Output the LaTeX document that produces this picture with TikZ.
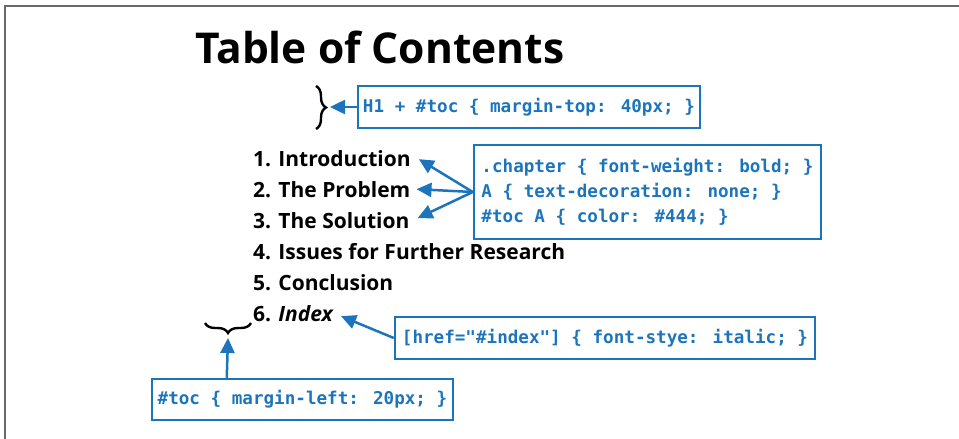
\documentclass[tikz,border=0pt]{standalone}
\usepackage{fontspec}
\setmainfont{Open Sans}
\newfontfamily\codefont{DejaVu Sans Mono}
\usetikzlibrary{arrows.meta,decorations.pathreplacing}
\definecolor{cssblue}{RGB}{28,117,188}
\definecolor{framegray}{RGB}{105,105,105}
\tikzset{
  codebox/.style={draw=cssblue, line width=2.5pt, text=cssblue, inner sep=0pt,
    font=\codefont\bfseries\fontsize{17.6}{25}\selectfont, align=left},
  item/.style={anchor=base west, inner sep=0pt, font=\bfseries\fontsize{21}{26}\selectfont},
  arr/.style={cssblue, line width=2.5pt, -{Triangle[length=15pt,width=14pt]}},
  bracestyle/.style={line width=2.4pt, decorate, decoration={brace, amplitude=10pt}}
}
\begin{document}
\begin{tikzpicture}[x=1pt,y=-1pt]
\useasboundingbox (0,0) rectangle (959,439);
% window frame
\draw[framegray, line width=2pt] (5,439) -- (5,6) -- (959,6);
% title
\node[anchor=base west, inner sep=0pt, font=\bfseries\fontsize{42.5}{50}\selectfont] (title) at (195,63) {Table of Contents};
% box 1 and brace
\node[codebox, minimum width=342pt, minimum height=42pt] (box1) at (529,107) {H1 + \#toc \{ margin-top: 40px; \}};
\draw[bracestyle] (316,86) -- (316,129);
\coordinate (rbtip) at (330,107);
\draw[arr] (box1.west) -- (rbtip);
% list
\node[item] (i1) at (253,166) {1. Introduction};
\node[item] (i2) at (253,197) {2. The Problem};
\node[item] (i3) at (253,228) {3. The Solution};
\node[item] (i4) at (253,259) {4. Issues for Further Research};
\node[item] (i5) at (253,290) {5. Conclusion};
\node[item] (i6) at (253,321) {6. \textit{Index}};
% box 2
\node[codebox, minimum width=347pt, minimum height=94pt] (box2) at (647.5,192) {.chapter \{ font-weight: bold; \}\\A \{ text-decoration: none; \}\\\#toc A \{ color: \#444; \}};
\coordinate (t1) at ([xshift=8pt,yshift=-1pt]i1.east);
\coordinate (t2) at ([xshift=6pt]i2.east);
\coordinate (t3) at ([xshift=8pt,yshift=2pt]i3.east);
\draw[arr] (box2.west) -- (t1);
\draw[arr] (box2.west) -- (t2);
\draw[arr] (box2.west) -- (t3);
% box 3
\node[codebox, minimum width=420pt, minimum height=42pt] (box3) at (605,338) {[href="\#index"] \{ font-stye: italic; \}};
\coordinate (t6) at ([xshift=7pt,yshift=-3pt]i6.east);
\draw[arr] (box3.west) -- (t6);
% under brace and box 4
\draw[bracestyle] (251,323) -- (205,323);
\coordinate (ubtip) at (228,338);
\node[codebox, minimum width=301pt, minimum height=41pt] (box4) at (302.5,399.5) {\#toc \{ margin-left: 20px; \}};
\draw[arr] ([xshift=76pt]box4.north west) -- (ubtip);
\end{tikzpicture}
\end{document}
